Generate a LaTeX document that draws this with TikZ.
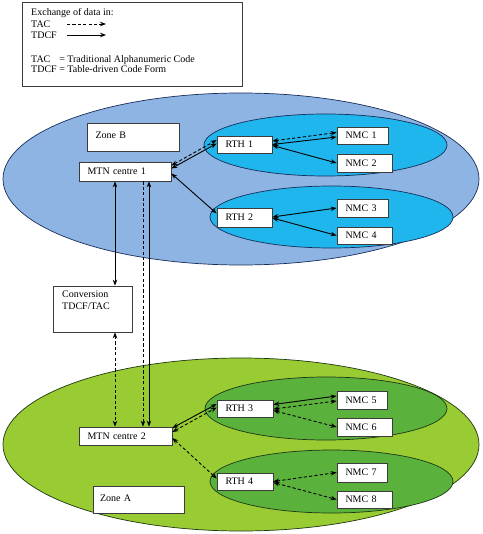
\documentclass[tikz,border=0pt]{standalone}
\usepackage{fontspec}
\setmainfont{Liberation Serif}
\usetikzlibrary{calc,arrows.meta}
\definecolor{outerblue}{RGB}{141,180,226}
\definecolor{innerblue}{RGB}{30,182,236}
\definecolor{bluerim}{RGB}{25,45,90}
\definecolor{outergreen}{RGB}{153,204,51}
\definecolor{innergreen}{RGB}{90,178,60}
\definecolor{greenrim}{RGB}{30,55,20}
\definecolor{boxrim}{RGB}{60,60,60}
\tikzset{
  box/.style={draw=boxrim, fill=white, line width=0.7pt, rectangle,
    inner xsep=8.5pt, inner ysep=0pt, align=left,
    font=\fontsize{10}{11}\selectfont},
  legtext/.style={anchor=west, inner sep=0pt, font=\fontsize{10}{11}\selectfont},
  tip/.tip={Stealth[length=6pt,width=4.5pt]},
  tdcf/.style={draw=black, line width=0.9pt, tip-tip},
  tac/.style={draw=black, line width=0.9pt, dash pattern=on 3.2pt off 2.2pt, tip-tip},
  tacone/.style={draw=black, line width=0.9pt, dash pattern=on 3.2pt off 2.2pt, -tip},
  tdcfone/.style={draw=black, line width=0.9pt, -tip},
  outerB/.style={fill=outerblue, draw=bluerim, line width=0.7pt},
  innerB/.style={fill=innerblue, draw=bluerim, line width=0.7pt},
  outerA/.style={fill=outergreen, draw=greenrim, line width=0.7pt},
  innerA/.style={fill=innergreen, draw=greenrim, line width=0.7pt},
}
\begin{document}
\begin{tikzpicture}[x=1pt,y=-1pt]
\useasboundingbox (0,0) rectangle (482,534);
\fill[white] (0,0) rectangle (482,534);

% legend
\node[draw=boxrim, line width=0.7pt, minimum width=220pt, minimum height=84pt, inner sep=0pt] (legend) at (132,44) {};
\node[legtext] (lg1) at (31,13) {Exchange of data in:};
\node[legtext] (lg2) at (31,24) {TAC};
\node[legtext] (lg3) at (31,35) {TDCF};
\node[legtext] (lg4) at (31,65.5) {\begin{tabular}{@{}l@{ }l@{}}TAC & = Traditional Alphanumeric Code\\[-1pt] TDCF & = Table-driven Code Form\end{tabular}};
\coordinate (la1) at (67,24); \coordinate (la2) at (106,24);
\coordinate (lb1) at (67,35); \coordinate (lb2) at (106,35);
\draw[tacone] (la1) -- (la2);
\draw[tdcfone] (lb1) -- (lb2);

% zone B
\path[outerB] (241,179) ellipse [x radius=238, y radius=86];
\path[innerB] (325.5,145) ellipse [x radius=121.5, y radius=31];
\path[innerB] (331.5,217) ellipse [x radius=121.5, y radius=31];

% zone A
\path[outerA] (241,444.5) ellipse [x radius=238, y radius=86.5];
\path[innerA] (326,408.5) ellipse [x radius=121, y radius=31.5];
\path[innerA] (331.5,481.5) ellipse [x radius=121.5, y radius=31.5];

% boxes
\node[box, text width=75pt, minimum height=28pt] (zoneB) at (133,137) {\raisebox{3pt}{Zone B}};
\node[box, text width=77pt, minimum height=27pt, inner xsep=7pt] (zoneA) at (138.5,499.5) {\raisebox{2.5pt}{Zone A}};
\node[box, text width=75pt, minimum height=19pt] (MTN1) at (125,171.5) {MTN centre 1};
\node[box, text width=38pt, minimum height=17pt] (RTH1) at (244.5,144.5) {RTH 1};
\node[box, text width=34pt, minimum height=17pt] (NMC1) at (362.5,135.5) {NMC 1};
\node[box, text width=38pt, minimum height=18pt] (NMC2) at (364.5,163) {NMC 2};
\node[box, text width=38pt, minimum height=19pt] (RTH2) at (244.5,217.5) {RTH 2};
\node[box, text width=34pt, minimum height=18pt] (NMC3) at (362.5,208) {NMC 3};
\node[box, text width=38pt, minimum height=17pt] (NMC4) at (364.5,235.5) {NMC 4};
\node[box, minimum width=79pt, minimum height=46pt, inner sep=0pt] (conv) at (92.5,309) {};
\node[anchor=north west, inner sep=0pt, align=left, font=\fontsize{10}{12}\selectfont] (convtext) at (62,291) {Conversion\\TDCF/TAC};
\node[box, text width=76pt, minimum height=18pt] (MTN2) at (125.5,436) {MTN centre 2};
\node[box, text width=39pt, minimum height=17pt] (RTH3) at (245,408.5) {RTH 3};
\node[box, text width=33pt, minimum height=18pt] (NMC5) at (362,400) {NMC 5};
\node[box, text width=38pt, minimum height=18pt] (NMC6) at (364.5,427) {NMC 6};
\node[box, text width=39pt, minimum height=17pt] (RTH4) at (245,481.5) {RTH 4};
\node[box, text width=33pt, minimum height=19pt] (NMC7) at (362,472.5) {NMC 7};
\node[box, text width=38pt, minimum height=17pt] (NMC8) at (364.5,499.5) {NMC 8};

% zone B connectors
\draw[tdcf] ($(MTN1.east)+(0,-3)$) -- ($(RTH1.west)+(0,-1)$);
\draw[tac] ($(MTN1.east)+(0,-6)$) -- ($(RTH1.west)+(0,-4.5)$);
\draw[tdcf] ($(RTH1.east)+(0,0)$) -- ($(NMC1.west)+(0,1.5)$);
\draw[tac] ($(RTH1.east)+(0,-3.5)$) -- ($(NMC1.west)+(0,-3)$);
\draw[tdcf] ($(RTH1.east)+(0,1)$) -- (NMC2.west);
\draw[tdcf] ($(MTN1.east)+(0,2)$) -- ($(RTH2.west)+(0,-4)$);
\draw[tdcf] ($(RTH2.east)+(0,-0.5)$) -- (NMC3.west);
\draw[tdcf] ($(RTH2.east)+(0,0.5)$) -- (NMC4.west);

% zone A connectors
\draw[tdcf] ($(MTN2.east)+(0,-8)$) -- ($(RTH3.west)+(0,-4.5)$);
\draw[tac] ($(MTN2.east)+(0,-4)$) -- ($(RTH3.west)+(0,-1)$);
\draw[tdcf] ($(RTH3.east)+(0,-4)$) -- ($(NMC5.west)+(0,-4)$);
\draw[tac] ($(RTH3.east)+(0,0.5)$) -- ($(NMC5.west)+(0,1)$);
\draw[tac] ($(RTH3.east)+(0,2)$) -- (NMC6.west);
\draw[tac] ($(MTN2.east)+(0,2)$) -- ($(RTH4.west)+(0,-3)$);
\draw[tac] ($(RTH4.east)+(0,0)$) -- (NMC7.west);
\draw[tac] ($(RTH4.east)+(0,1)$) -- (NMC8.west);

% vertical connectors
\draw[tdcf] ($(MTN1.south)+(-10,0)$) -- ($(conv.north)+(22.5,0)$);
\draw[tac] ($(conv.south)+(22.5,0)$) -- ($(MTN2.north)+(-10.5,0)$);
\draw[tacone] ($(MTN1.south)+(18,0)$) -- ($(MTN2.north)+(17.5,0)$);
\draw[tdcf] ($(MTN1.south)+(24,0)$) -- ($(MTN2.north)+(23.5,0)$);
\end{tikzpicture}
\end{document}
